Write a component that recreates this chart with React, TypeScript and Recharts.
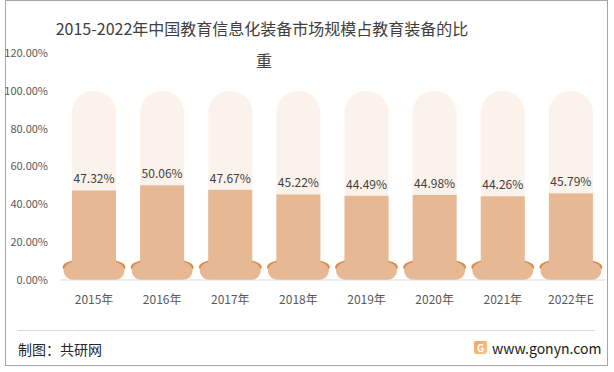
import React from 'react'
import { BarChart, Bar, XAxis, YAxis, LabelList } from 'recharts'

const years = ['2015年', '2016年', '2017年', '2018年', '2019年', '2020年', '2021年', '2022年E']
const shares = [47.32, 50.06, 47.67, 45.22, 44.49, 44.98, 44.26, 45.79]
const yTicks = [0, 20, 40, 60, 80, 100, 120]
const fullShare = 100

const chartData = years.map((year, i) => ({ year, share: shares[i] }))

const barColor = '#e6b894'
const trackColor = '#fbf2ec'
const rimColor = '#d98c4a'
const font = '"Noto Sans CJK SC", "Noto Sans", sans-serif'

// track capsule up to 100%, rim + foot at the base, then the value column
const CapsuleBar = (props: any) => {
  const { x, y, width, height, value } = props
  const bottom = y + height
  const unit = height / value
  const trackTop = bottom - fullShare * unit
  const r = width / 2
  const cx = x + width / 2
  const baseW = width * 1.43
  const footW = baseW - 2
  return (
    <g>
      <path
        d={`M${x},${bottom} L${x},${trackTop + r} A${r},${r} 0 0 1 ${x + width},${trackTop + r} L${x + width},${bottom} Z`}
        fill={trackColor}
      />
      <ellipse cx={cx} cy={bottom - 13} rx={baseW / 2} ry={9} fill={rimColor} />
      <rect x={cx - footW / 2} y={bottom - 18} width={footW} height={18} rx={10} ry={9} fill={barColor} />
      <rect x={x} y={y} width={width} height={height - 9} fill={barColor} />
    </g>
  )
}

export default function App() {
  return (
    <div style={{ position: 'relative', width: 614, height: 372, background: '#fff', fontFamily: font }}>
      <style>{'body{margin:0}'}</style>
      <div
        style={{
          position: 'absolute', left: 5, top: 0, width: 603, height: 366,
          border: '1px solid #a6a6a6', boxSizing: 'border-box',
        }}
      />
      <div style={{ position: 'absolute', left: 0, width: 524, top: 16, textAlign: 'center', fontSize: 16, color: '#404040', lineHeight: '24px' }}>
        2015-2022年中国教育信息化装备市场规模占教育装备的比
      </div>
      <div style={{ position: 'absolute', left: 0, width: 528, top: 48, textAlign: 'center', fontSize: 16, color: '#404040', lineHeight: '24px' }}>
        重
      </div>
      <div style={{ position: 'absolute', left: 0, top: 0 }}>
        <BarChart width={614} height={372} data={chartData} margin={{ top: 53, right: 9, left: 0, bottom: 62 }}>
          <XAxis
            dataKey="year"
            height={30}
            tick={{ fill: '#595959', fontSize: 12, fontFamily: font }}
            tickLine={false}
            tickMargin={9}
            axisLine={{ stroke: '#d9d9d9' }}
          />
          <YAxis
            width={60}
            domain={[0, 120]}
            ticks={yTicks}
            tickFormatter={(v: number) => `${v.toFixed(2)}%`}
            tick={{ fill: '#595959', fontSize: 11, fontFamily: font }}
            tickLine={false}
            axisLine={false}
            tickMargin={6}
          />
          <Bar dataKey="share" barSize={44} shape={<CapsuleBar />} isAnimationActive={false}>
            <LabelList
              dataKey="share"
              position="top"
              offset={7}
              formatter={(v: number) => `${v.toFixed(2)}%`}
              style={{ fill: '#404040', fontSize: 12, fontFamily: font }}
            />
          </Bar>
        </BarChart>
      </div>
      <div style={{ position: 'absolute', left: 17, top: 330, width: 578, height: 1, background: '#d9d9d9' }} />
      <div style={{ position: 'absolute', left: 18, top: 339, fontSize: 14, color: '#262626' }}>制图：共研网</div>
      <div
        style={{
          position: 'absolute', left: 474, top: 341, width: 13, height: 13, borderRadius: 2,
          background: 'linear-gradient(135deg, #f7a35c, #f6c98a)', color: '#fff', fontSize: 10,
          lineHeight: '13px', textAlign: 'center', fontWeight: 700,
        }}
      >
        G
      </div>
      <div style={{ position: 'absolute', left: 492, top: 338, fontSize: 14, color: '#1a1a1a' }}>www.gonyn.com</div>
    </div>
  )
}
